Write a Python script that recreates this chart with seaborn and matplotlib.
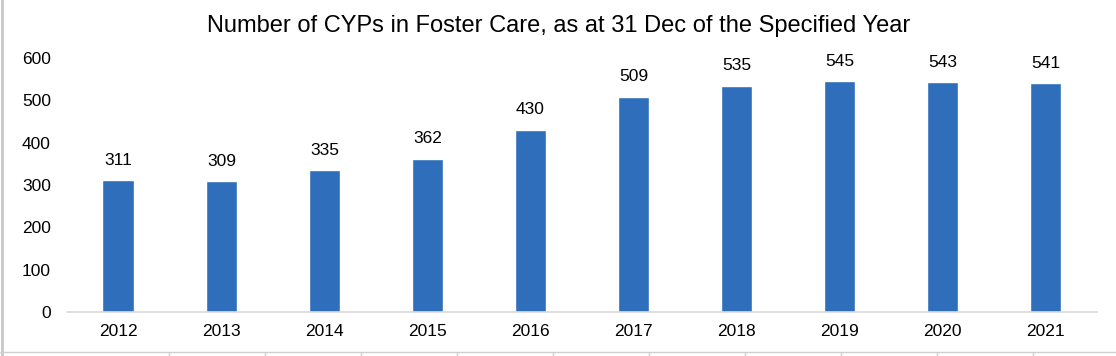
import matplotlib.pyplot as plt
import seaborn as sns
import pandas as pd
from matplotlib.lines import Line2D

years = ['2012', '2013', '2014', '2015', '2016', '2017', '2018', '2019', '2020', '2021']
counts = [311, 309, 335, 362, 430, 509, 535, 545, 543, 541]

df = pd.DataFrame({'year': years, 'count': counts})

sns.set_theme(style='white')
plt.rcParams['font.family'] = ['Liberation Sans', 'DejaVu Sans']

fig = plt.figure(figsize=(11.16, 3.56), dpi=100)
ax = fig.add_axes([0.060, 0.1236, 0.923, 0.7134])

sns.barplot(data=df, x='year', y='count', color='#2F6EBA', width=0.31,
            saturation=1, ax=ax)

for i, v in enumerate(counts):
    ax.annotate(str(v), (i, v), xytext=(0, 9), textcoords='offset points',
                ha='center', va='bottom', fontsize=12.5, color='black')

ax.set_ylim(0, 600)
ax.set_yticks(range(0, 601, 100))
ax.set_xlim(-0.5, 9.5)
ax.set_xlabel('')
ax.set_ylabel('')
# title is centred on the whole chart area, not on the plot area
ax.set_title('Number of CYPs in Foster Care, as at 31 Dec of the Specified Year',
             fontsize=17, pad=19, color='black', x=0.4775)
ax.tick_params(axis='y', length=0, pad=11.5, labelsize=12.5, colors='black')
ax.tick_params(axis='x', length=0, pad=9, labelsize=12.5, colors='black')
for s in ['top', 'right', 'left']:
    ax.spines[s].set_visible(False)
ax.spines['bottom'].set_color('#D9D9D9')
ax.spines['bottom'].set_linewidth(1.2)

# spreadsheet cell borders around the chart
W, H = 1116, 356
fig.add_artist(Line2D([2 / W, 2 / W], [0, 1], color='#C8C8C8', lw=2))
fig.add_artist(Line2D([0, 1], [4 / H, 4 / H], color='#D0D0D0', lw=1))
for x in [169, 265, 361, 457, 553, 649, 745, 841, 937, 1033]:
    fig.add_artist(Line2D([x / W, x / W], [0, 4 / H], color='#D0D0D0', lw=1))

fig.savefig('out.png', dpi=100)
